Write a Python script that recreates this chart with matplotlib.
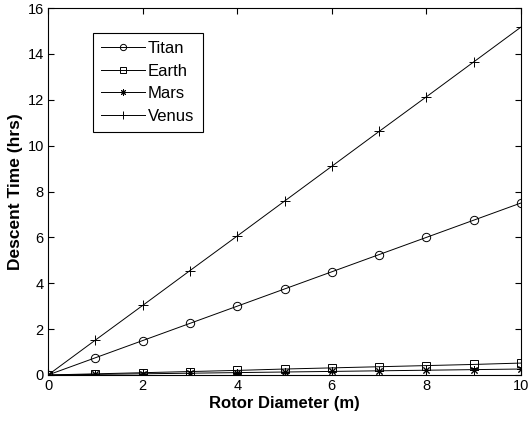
"""Descent time vs rotor diameter."""

import matplotlib
matplotlib.use("Agg")
import matplotlib.pyplot as plt
import numpy as np

diameter = [0, 1, 2, 3, 4, 5, 6, 7, 8, 9, 10]
titan = [0, 0.75, 1.5, 2.25, 3.0, 3.75, 4.5, 5.25, 6.0, 6.75, 7.5]
earth = [0, 0.05, 0.1, 0.15, 0.2, 0.26, 0.31, 0.36, 0.41, 0.46, 0.52]
mars = [0, 0.026, 0.052, 0.078, 0.104, 0.13, 0.156, 0.182, 0.208, 0.234, 0.26]
venus = [0, 1.52, 3.03, 4.55, 6.06, 7.58, 9.1, 10.62, 12.13, 13.65, 15.17]

plt.rcParams["font.family"] = ["Liberation Sans", "DejaVu Sans"]

fig = plt.figure(figsize=(5.3, 4.23), dpi=100)
ax = fig.add_axes([0.0906, 0.1135, 0.8924, 0.8675])

style = dict(color="black", linewidth=0.7, markerfacecolor="none",
             markeredgecolor="black", markeredgewidth=0.7)
ax.plot(diameter, titan, marker="o", markersize=6, label="Titan", **style)
ax.plot(diameter, earth, marker="s", markersize=6, label="Earth", **style)
ax.plot(diameter, mars, marker=(8, 2, 0), markersize=6, label="Mars", **style)
ax.plot(diameter, venus, marker="+", markersize=7, label="Venus", **style)

ax.set_xlim(0, 10)
ax.set_ylim(0, 16)
ax.set_xticks(np.arange(0, 11, 2))
ax.set_yticks(np.arange(0, 17, 2))
ax.tick_params(direction="in", length=4, width=0.8, labelsize=10.5, top=True, right=True,
               labeltop=False, labelright=False, pad=3)
for s in ax.spines.values():
    s.set_linewidth(0.8)

ax.set_xlabel("Rotor Diameter (m)", fontsize=12, fontweight="bold", labelpad=2)
ax.set_ylabel("Descent Time (hrs)", fontsize=12.5, fontweight="bold", labelpad=3)

leg = ax.legend(loc="upper left", bbox_to_anchor=(0.095, 0.932), fontsize=12,
                fancybox=False, edgecolor="black", framealpha=1, handlelength=2.6,
                borderpad=0.5, borderaxespad=0, labelspacing=0.45, handletextpad=0.2,
                markerscale=0.75)
leg.get_frame().set_linewidth(0.8)

fig.savefig("out.png", dpi=100)
